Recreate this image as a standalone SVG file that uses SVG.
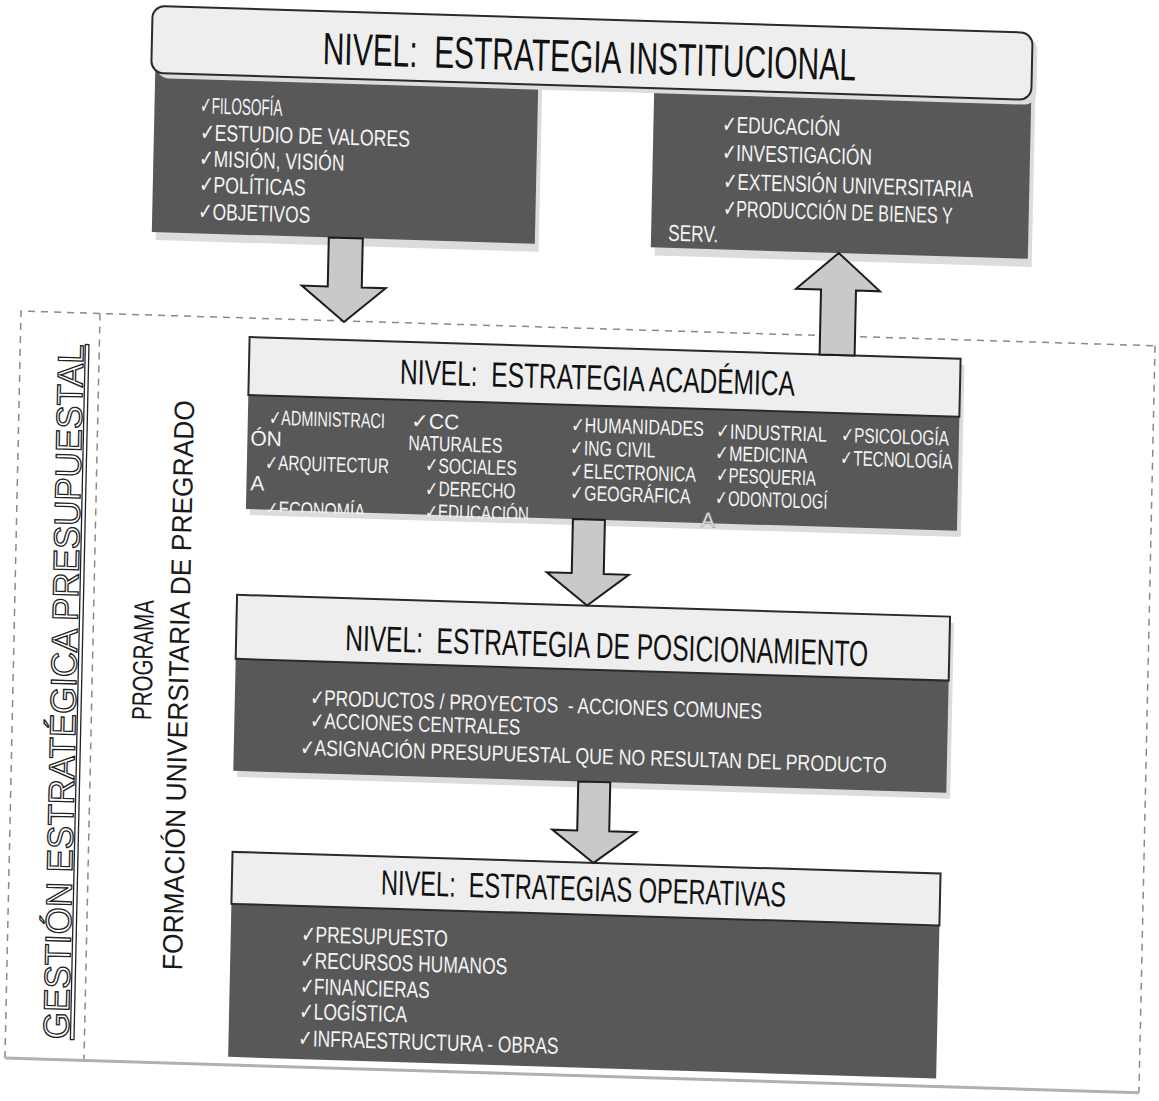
<svg xmlns="http://www.w3.org/2000/svg" width="1159" height="1101" viewBox="0 0 1159 1101">
<defs>
<style>
.t{font-family:"Liberation Sans Narrow","Liberation Sans",Arial,sans-serif}
.hdr{fill:#eeeeee;stroke:#2a2a2a;stroke-width:2}
.shadow{fill:#dcdcdc}
.body{fill:#585858}
.title{fill:#111}
.item{fill:#f4f4f4}
.arrow{fill:#c9c9c9;stroke:#1c1c1c;stroke-width:2;stroke-linejoin:miter}
.dash{fill:none;stroke:#8a8a8a;stroke-width:1.5;stroke-dasharray:7 6}
.solid{fill:none;stroke:#b0b0b0;stroke-width:3}
</style>
<clipPath id="acadClip"><rect x="250" y="330" width="711" height="174"/></clipPath>
</defs>
<rect width="1159" height="1101" fill="#ffffff"/>
<g transform="matrix(1 0.0306 -0.0215 1 6.7 -0.6)">
<g id="frame">
<path class="dash" d="M21 1058 V311 H1155"/>
<path class="dash" d="M1155 311 V1058"/>
<path class="dash" d="M100 311 V1058"/>
<path class="solid" d="M21 1058 H1155"/>
</g>
<g id="side-labels" class="t">
<text transform="translate(84,690) rotate(-90)" text-anchor="middle" font-size="36" textLength="695" lengthAdjust="spacingAndGlyphs" fill="#ffffff" stroke="#222" stroke-width="1.3" text-decoration="underline" style="font-family:'Liberation Sans',Arial,sans-serif">GESTIÓN ESTRATÉGICA PRESUPUESTAL</text>
<text transform="translate(160,656) rotate(-90)" text-anchor="middle" font-size="28" textLength="120" lengthAdjust="spacingAndGlyphs" fill="#1a1a1a">PROGRAMA</text>
<text transform="translate(196,680) rotate(-90)" text-anchor="middle" font-size="28" textLength="570" lengthAdjust="spacingAndGlyphs" fill="#1a1a1a">FORMACIÓN UNIVERSITARIA DE PREGRADO</text>
</g>
<g id="node-institucional" class="t">
<rect class="shadow" x="154" y="48" width="383" height="188"/>
<rect class="shadow" x="653" y="48" width="377" height="188"/>
<rect class="body" x="150" y="40" width="383" height="188"/>
<rect class="body" x="649" y="40" width="377" height="188"/>
<rect class="shadow" x="151" y="7" width="880" height="67" rx="12"/>
<rect class="hdr" x="146" y="2" width="880" height="67" rx="12"/>
<text class="title" x="317" y="55" font-size="45" textLength="533" lengthAdjust="spacingAndGlyphs">NIVEL:&#160; ESTRATEGIA INSTITUCIONAL</text>
<g class="item" font-size="23">
<text x="196" y="108" textLength="82" lengthAdjust="spacingAndGlyphs">✓FILOSOFÍA</text>
<text x="196" y="135" textLength="210" lengthAdjust="spacingAndGlyphs">✓ESTUDIO DE VALORES</text>
<text x="196" y="161" textLength="145" lengthAdjust="spacingAndGlyphs">✓MISIÓN, VISIÓN</text>
<text x="196" y="187" textLength="107" lengthAdjust="spacingAndGlyphs">✓POLÍTICAS</text>
<text x="196" y="214" textLength="112" lengthAdjust="spacingAndGlyphs">✓OBJETIVOS</text>
<text x="718" y="111" textLength="118" lengthAdjust="spacingAndGlyphs">✓EDUCACIÓN</text>
<text x="718" y="139" textLength="150" lengthAdjust="spacingAndGlyphs">✓INVESTIGACIÓN</text>
<text x="720" y="168" textLength="250" lengthAdjust="spacingAndGlyphs">✓EXTENSIÓN UNIVERSITARIA</text>
<text x="720" y="195" textLength="230" lengthAdjust="spacingAndGlyphs">✓PRODUCCIÓN DE BIENES Y</text>
<text x="666" y="221" textLength="50" lengthAdjust="spacingAndGlyphs">SERV.</text>
</g>
</g>
<g id="node-academica" class="t">
<rect class="shadow" x="254" y="336" width="711" height="172"/>
<rect class="body" x="250" y="330" width="711" height="172"/>
<rect class="hdr" x="250" y="330" width="711" height="58"/>
<text class="title" x="401" y="372" font-size="35" textLength="395" lengthAdjust="spacingAndGlyphs">NIVEL:&#160; ESTRATEGIA ACADÉMICA</text>
<g class="item" font-size="21" clip-path="url(#acadClip)">
<text x="271" y="417" textLength="116" lengthAdjust="spacingAndGlyphs">✓ADMINISTRACI</text>
<text x="253" y="438">ÓN</text>
<text x="268" y="462" textLength="124" lengthAdjust="spacingAndGlyphs">✓ARQUITECTUR</text>
<text x="254" y="483">A</text>
<text x="269" y="508" textLength="100" lengthAdjust="spacingAndGlyphs">✓ECONOMÍA</text>
<text x="413" y="416">✓CC</text>
<text x="411" y="438" textLength="94" lengthAdjust="spacingAndGlyphs">NATURALES</text>
<text x="428" y="460" textLength="92" lengthAdjust="spacingAndGlyphs">✓SOCIALES</text>
<text x="429" y="483" textLength="90" lengthAdjust="spacingAndGlyphs">✓DERECHO</text>
<text x="429" y="506" textLength="104" lengthAdjust="spacingAndGlyphs">✓EDUCACIÓN</text>
<text x="573" y="415" textLength="133" lengthAdjust="spacingAndGlyphs">✓HUMANIDADES</text>
<text x="573" y="438" textLength="85" lengthAdjust="spacingAndGlyphs">✓ING CIVIL</text>
<text x="573" y="461" textLength="126" lengthAdjust="spacingAndGlyphs">✓ELECTRONICA</text>
<text x="574" y="483" textLength="120" lengthAdjust="spacingAndGlyphs">✓GEOGRÁFICA</text>
<text x="718" y="417" textLength="111" lengthAdjust="spacingAndGlyphs">✓INDUSTRIAL</text>
<text x="718" y="439" textLength="92" lengthAdjust="spacingAndGlyphs">✓MEDICINA</text>
<text x="719" y="461" textLength="100" lengthAdjust="spacingAndGlyphs">✓PESQUERIA</text>
<text x="719" y="484" textLength="112" lengthAdjust="spacingAndGlyphs">✓ODONTOLOGÍ</text>
<text x="843" y="417" textLength="108" lengthAdjust="spacingAndGlyphs">✓PSICOLOGÍA</text>
<text x="843" y="440" textLength="112" lengthAdjust="spacingAndGlyphs">✓TECNOLOGÍA</text>
</g>
<text x="705" y="506" font-size="21" fill="#f0f0f0" stroke="#999" stroke-width="0.6">A</text>
</g>
<g id="node-posicionamiento" class="t">
<rect class="shadow" x="247" y="594" width="713" height="176"/>
<rect class="body" x="243" y="588" width="713" height="176"/>
<rect class="hdr" x="243" y="588" width="713" height="64"/>
<text class="title" x="352" y="640" font-size="36" textLength="523" lengthAdjust="spacingAndGlyphs">NIVEL:&#160; ESTRATEGIA DE POSICIONAMIENTO</text>
<g class="item" font-size="22">
<text x="318" y="696" textLength="452" lengthAdjust="spacingAndGlyphs">✓PRODUCTOS / PROYECTOS&#160; - ACCIONES COMUNES</text>
<text x="319" y="719" textLength="210" lengthAdjust="spacingAndGlyphs">✓ACCIONES CENTRALES</text>
<text x="309" y="746" textLength="587" lengthAdjust="spacingAndGlyphs">✓ASIGNACIÓN PRESUPUESTAL QUE NO RESULTAN DEL PRODUCTO</text>
</g>
</g>
<g id="node-operativas" class="t">
<rect class="body" x="244" y="845" width="708" height="205"/>
<rect class="hdr" x="244" y="845" width="708" height="52"/>
<text class="title" x="393" y="883" font-size="35" textLength="405" lengthAdjust="spacingAndGlyphs">NIVEL:&#160; ESTRATEGIAS OPERATIVAS</text>
<g class="item" font-size="23">
<text x="314" y="933" textLength="147" lengthAdjust="spacingAndGlyphs">✓PRESUPUESTO</text>
<text x="314" y="959" textLength="207" lengthAdjust="spacingAndGlyphs">✓RECURSOS HUMANOS</text>
<text x="314" y="985" textLength="130" lengthAdjust="spacingAndGlyphs">✓FINANCIERAS</text>
<text x="314" y="1010" textLength="108" lengthAdjust="spacingAndGlyphs">✓LOGÍSTICA</text>
<text x="314" y="1037" textLength="260" lengthAdjust="spacingAndGlyphs">✓INFRAESTRUCTURA - OBRAS</text>
</g>
</g>
<g id="connectors">
<path class="arrow" d="M327 228 H361 V277 H385 L344 312 L301 277 H327 Z"/>
<path class="arrow" d="M820 330 V265 H795 L837 228 L879 265 H855 V330 Z"/>
<path class="arrow" d="M577 502 H609 V556 H634 L593 588 L552 556 H577 Z"/>
<path class="arrow" d="M588 764 H620 V813 H647 L605 845 L563 813 H588 Z"/>
</g>
</g>
</svg>
